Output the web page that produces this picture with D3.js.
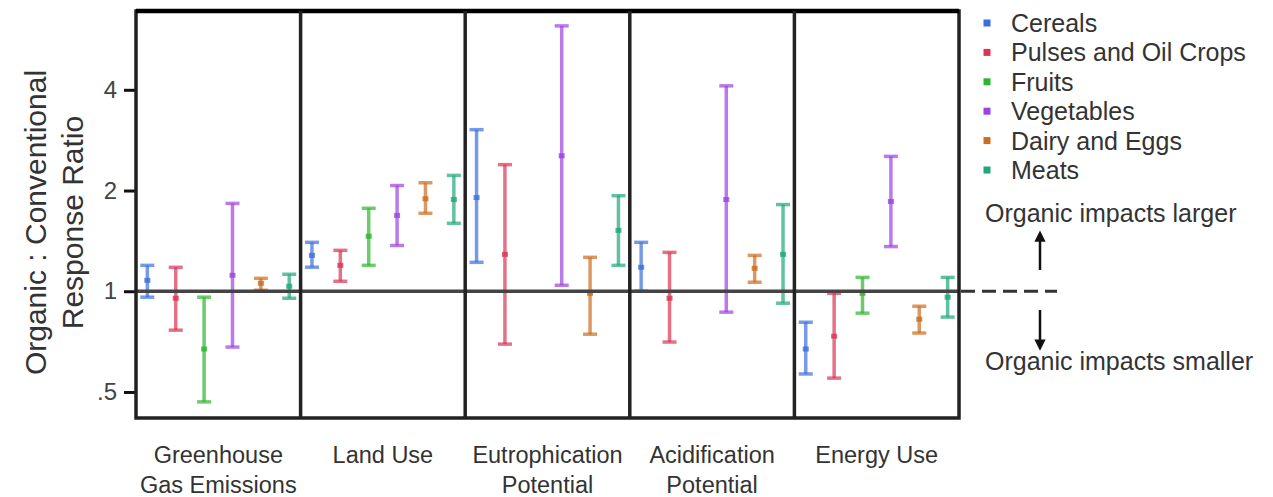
<!DOCTYPE html>
<html>
<head>
<meta charset="utf-8">
<script src="https://cdn.jsdelivr.net/npm/d3@7"></script>
<style>
  body { margin: 0; background: #fff; }
  text { font-family: "Liberation Sans", Arial, sans-serif; fill: #333; }
</style>
</head>
<body>
<script>
// impact categories (panels) and food groups (series)
var impacts = ["Greenhouse Gas Emissions", "Land Use", "Eutrophication Potential", "Acidification Potential", "Energy Use"];
var impactLines = [["Greenhouse", "Gas Emissions"], ["Land Use"], ["Eutrophication", "Potential"], ["Acidification", "Potential"], ["Energy Use"]];
var foods = ["Cereals", "Pulses and Oil Crops", "Fruits", "Vegetables", "Dairy and Eggs", "Meats"];
var foodColors = ["#3b6fdb", "#d93552", "#2eb52e", "#9c42e3", "#cc6c1f", "#1fa67b"];

// response ratios, rows = foods, columns = impacts (null = no data)
var ratioLow = [
  [0.96, 1.18, 1.22, 1.00, 0.566],
  [0.765, 1.071, 0.695, 0.705, 0.55],
  [0.467, 1.195, null, null, 0.86],
  [0.681, 1.37, 1.042, 0.866, 1.36],
  [1.007, 1.71, 0.744, 1.064, 0.75],
  [0.953, 1.596, 1.195, 0.921, 0.837]
];
var ratioMid = [
  [1.078, 1.28, 1.906, 1.179, 0.672],
  [0.953, 1.195, 1.289, 0.953, 0.734],
  [0.672, 1.46, null, null, 0.986],
  [1.116, 1.685, 2.54, 1.88, 1.855],
  [1.056, 1.89, 0.986, 1.171, 0.825],
  [1.035, 1.88, 1.52, 1.289, 0.96]
];
var ratioHigh = [
  [1.195, 1.40, 3.04, 1.40, 0.808],
  [1.179, 1.325, 2.39, 1.307, 0.986],
  [0.96, 1.77, null, null, 1.10],
  [1.83, 2.07, 6.21, 4.11, 2.53],
  [1.093, 2.11, 1.263, 1.28, 0.902],
  [1.124, 2.22, 1.93, 1.816, 1.10]
];
var yTicks = [0.5, 1, 2, 4];
var yTickLabels = [".5", "1", "2", "4"];

var width = 1273, height = 497;
var plotLeft = 136, plotRight = 959, plotTop = 11, plotBottom = 418;

var svg = d3.select("body").append("svg")
    .attr("width", width)
    .attr("height", height);

var x = d3.scaleBand().domain(impacts).range([plotLeft, plotRight]).padding(0);
var xi = d3.scalePoint().domain(foods).range([0, x.bandwidth()]).padding(0.4);
var y = d3.scaleLog().domain([0.418, 6.88]).range([plotBottom, plotTop]);

// y axis
var yAxis = d3.axisLeft(y)
    .tickValues(yTicks)
    .tickFormat(function(d, i) { return yTickLabels[i]; })
    .tickSize(12)
    .tickPadding(7);
var ya = svg.append("g").attr("transform", "translate(" + plotLeft + ",0)").call(yAxis);
ya.select(".domain").remove();
ya.selectAll(".tick line").attr("stroke", "#111").attr("stroke-width", 3);
ya.selectAll(".tick text").attr("font-size", "24px").style("fill", "#444");

// y title
var yTitle = svg.append("text")
    .attr("transform", "translate(46," + ((plotTop + plotBottom) / 2 + 8) + ") rotate(-90)")
    .attr("text-anchor", "middle")
    .attr("font-size", "30px");
yTitle.append("tspan").attr("x", 0).attr("dy", 0).text("Organic : Conventional");
yTitle.append("tspan").attr("x", 0).attr("dy", 37).text("Response Ratio");

// error bars
var capW = 7;
foods.forEach(function(f, i) {
  impacts.forEach(function(c, j) {
    if (ratioMid[i][j] == null) return;
    var cx = x(c) + xi(f);
    var g = svg.append("g")
        .attr("stroke", foodColors[i])
        .attr("fill", foodColors[i])
        .attr("stroke-opacity", 0.7);
    g.append("line")
        .attr("x1", cx).attr("x2", cx)
        .attr("y1", y(ratioLow[i][j])).attr("y2", y(ratioHigh[i][j]))
        .attr("stroke-width", 3.5);
    [ratioLow[i][j], ratioHigh[i][j]].forEach(function(v) {
      g.append("line")
          .attr("x1", cx - capW).attr("x2", cx + capW)
          .attr("y1", y(v)).attr("y2", y(v))
          .attr("stroke-width", 3.5);
    });
    g.append("rect")
        .attr("x", cx - 3).attr("y", y(ratioMid[i][j]) - 2.5)
        .attr("width", 6).attr("height", 5)
        .attr("stroke", "none")
        .attr("fill-opacity", 0.8);
  });
});

// reference line at 1
svg.append("line")
    .attr("x1", plotLeft).attr("x2", plotRight)
    .attr("y1", y(1)).attr("y2", y(1))
    .attr("stroke", "#444").attr("stroke-width", 3.5);
svg.append("line")
    .attr("x1", plotRight + 2).attr("x2", 1057)
    .attr("y1", y(1)).attr("y2", y(1))
    .attr("stroke", "#333").attr("stroke-width", 3)
    .attr("stroke-dasharray", "14,7");

// panel frame
svg.append("rect")
    .attr("x", plotLeft).attr("y", plotTop)
    .attr("width", plotRight - plotLeft).attr("height", plotBottom - plotTop)
    .attr("fill", "none").attr("stroke", "#222").attr("stroke-width", 3.5);
svg.append("line")
    .attr("x1", plotLeft).attr("x2", plotRight)
    .attr("y1", plotTop).attr("y2", plotTop)
    .attr("stroke", "#000").attr("stroke-width", 4.5);
svg.selectAll(".divider")
    .data(impacts.slice(1))
    .enter().append("line")
    .attr("x1", function(d) { return x(d); })
    .attr("x2", function(d) { return x(d); })
    .attr("y1", plotTop).attr("y2", plotBottom)
    .attr("stroke", "#222").attr("stroke-width", 3.5);

// category labels
impacts.forEach(function(c, j) {
  var cx = x(c) + x.bandwidth() / 2;
  var t = svg.append("text")
      .attr("x", cx)
      .attr("y", 463)
      .attr("text-anchor", "middle")
      .attr("font-size", "23.5px");
  impactLines[j].forEach(function(s, k) {
    t.append("tspan").attr("x", cx).attr("dy", k ? 30 : 0).text(s);
  });
});

// legend
var legend = svg.append("g").attr("transform", "translate(987,23)");
foods.forEach(function(f, i) {
  legend.append("rect")
      .attr("x", -3.5).attr("y", i * 29.4 - 3.5)
      .attr("width", 7).attr("height", 7)
      .attr("fill", foodColors[i]);
  legend.append("text")
      .attr("x", 24).attr("y", i * 29.4)
      .attr("dy", "0.36em")
      .attr("font-size", "25px")
      .text(f);
});

// direction notes
svg.append("text").attr("x", 985).attr("y", 222).attr("font-size", "25px").text("Organic impacts larger");
svg.append("text").attr("x", 985).attr("y", 370).attr("font-size", "25px").text("Organic impacts smaller");

svg.append("defs").append("marker")
    .attr("id", "head")
    .attr("viewBox", "0 0 10 10")
    .attr("refX", 5).attr("refY", 5)
    .attr("markerWidth", 4.5).attr("markerHeight", 4.5)
    .attr("orient", "auto")
    .append("path").attr("d", "M0,0L10,5L0,10Z").attr("fill", "#111");
svg.append("line")
    .attr("x1", 1040).attr("x2", 1040).attr("y1", 270).attr("y2", 236)
    .attr("stroke", "#111").attr("stroke-width", 2.5).attr("marker-end", "url(#head)");
svg.append("line")
    .attr("x1", 1040).attr("x2", 1040).attr("y1", 310).attr("y2", 345)
    .attr("stroke", "#111").attr("stroke-width", 2.5).attr("marker-end", "url(#head)");
</script>
</body>
</html>
